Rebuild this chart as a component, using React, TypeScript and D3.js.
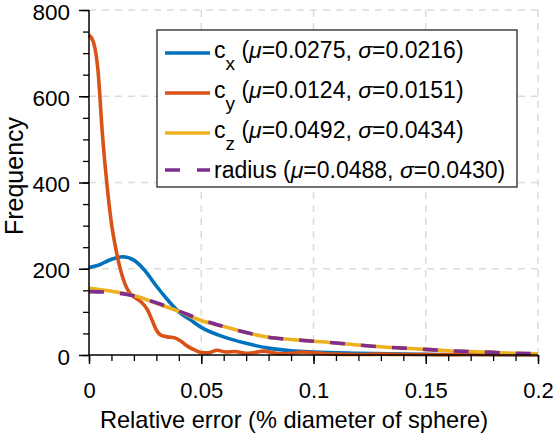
import React, { useEffect, useRef } from 'react';
import * as d3 from 'd3';

const cxX = [0, 0.005, 0.01, 0.015, 0.02, 0.025, 0.03, 0.035, 0.04, 0.045, 0.05, 0.06, 0.07, 0.08, 0.09, 0.1, 0.12, 0.14, 0.16, 0.18, 0.2];
const cxY = [203, 210, 222, 228, 220, 195, 160, 128, 100, 82, 64, 42, 27, 16, 10, 7, 4, 2, 1, 1, 0.5];

const cyX = [0, 0.002, 0.004, 0.006, 0.008, 0.01, 0.012, 0.014, 0.016, 0.018, 0.02, 0.023, 0.026, 0.028, 0.03, 0.032, 0.035, 0.038, 0.041, 0.044, 0.047, 0.05, 0.053, 0.057, 0.061, 0.065, 0.07, 0.074, 0.078, 0.082, 0.086, 0.09, 0.095, 0.1, 0.105, 0.11, 0.12, 0.13, 0.14, 0.15, 0.16, 0.17, 0.18, 0.19, 0.2];
const cyY = [742, 725, 660, 510, 395, 305, 245, 198, 165, 145, 135, 124, 105, 82, 58, 46, 42, 40, 32, 20, 12, 6, 5, 11, 7, 8, 4, 6, 9, 5, 3, 4, 7, 5, 3, 2, 1, 2, 1, 1, 0.5, 1, 0.5, 0.5, 0];

const czX = [0, 0.01, 0.02, 0.03, 0.04, 0.05, 0.06, 0.07, 0.08, 0.09, 0.1, 0.11, 0.12, 0.13, 0.14, 0.15, 0.16, 0.17, 0.18, 0.19, 0.2];
const czY = [155, 148, 138, 120, 101, 80, 66, 52, 41, 36, 32, 28, 23, 19, 16, 13, 10, 8, 6, 4, 3];

const radiusX = [0, 0.01, 0.02, 0.03, 0.04, 0.05, 0.06, 0.07, 0.08, 0.09, 0.1, 0.11, 0.12, 0.13, 0.14, 0.15, 0.16, 0.17, 0.18, 0.19, 0.2];
const radiusY = [147, 145, 137, 121, 102, 82, 66, 52, 41, 36, 32, 28, 23, 19, 16, 13, 10, 8, 6, 4, 3];

const xTicks = [0, 0.05, 0.1, 0.15, 0.2];
const yTicks = [0, 200, 400, 600, 800];

const legendItems = [
  { sub: 'x', mu: '0.0275', sigma: '0.0216', color: '#0072BD', dash: false },
  { sub: 'y', mu: '0.0124', sigma: '0.0151', color: '#D95319', dash: false },
  { sub: 'z', mu: '0.0492', sigma: '0.0434', color: '#EDB120', dash: false },
  { sub: '', mu: '0.0488', sigma: '0.0430', color: '#7E2F8E', dash: true },
];

export default function App() {
  const ref = useRef<SVGSVGElement | null>(null);

  useEffect(() => {
    if (!ref.current) return;
    const svg = d3.select(ref.current);
    svg.selectAll('*').remove();

    const width = 558;
    const height = 440;
    const margin = { top: 10, right: 20, bottom: 85, left: 89 };
    const innerWidth = width - margin.left - margin.right;
    const innerHeight = height - margin.top - margin.bottom;
    const font = 'Liberation Sans, Arial, Helvetica, sans-serif';

    const x = d3.scaleLinear().domain([0, 0.2]).range([0, innerWidth]);
    const y = d3.scaleLinear().domain([0, 800]).range([innerHeight, 0]);

    const g = svg.append('g').attr('transform', `translate(${margin.left},${margin.top})`);

    // grid
    g.selectAll('.vgrid')
      .data(xTicks.filter(d => d > 0))
      .join('line')
      .attr('x1', d => x(d)).attr('x2', d => x(d))
      .attr('y1', 0).attr('y2', innerHeight)
      .attr('stroke', '#dcdcdc').attr('stroke-width', 1.5)
      .attr('stroke-dasharray', '7,6');
    g.selectAll('.hgrid')
      .data(yTicks.filter(d => d > 0))
      .join('line')
      .attr('x1', 0).attr('x2', innerWidth)
      .attr('y1', d => y(d)).attr('y2', d => y(d))
      .attr('stroke', '#dcdcdc').attr('stroke-width', 1.5)
      .attr('stroke-dasharray', '7,6');

    // curves
    const series = [
      { xs: cxX, ys: cxY, color: '#0072BD', dash: '' },
      { xs: cyX, ys: cyY, color: '#D95319', dash: '' },
      { xs: czX, ys: czY, color: '#EDB120', dash: '' },
      { xs: radiusX, ys: radiusY, color: '#7E2F8E', dash: '15,16' },
    ];
    const line = d3.line<[number, number]>()
      .x(d => x(d[0]))
      .y(d => y(d[1]))
      .curve(d3.curveMonotoneX);
    series.forEach(s => {
      const pts = s.xs.map((v, i) => [v, s.ys[i]] as [number, number]);
      g.append('path')
        .attr('d', line(pts)!)
        .attr('fill', 'none')
        .attr('stroke', s.color)
        .attr('stroke-width', 3.6)
        .attr('stroke-dasharray', s.dash || null)
        .attr('stroke-linejoin', 'round');
    });

    // axes
    const xAxis = g.append('g')
      .attr('transform', `translate(0,${innerHeight})`)
      .call(d3.axisBottom(x).tickValues(d3.range(0, 21).map(i => i / 100)).tickFormat(() => '').tickSize(6));
    xAxis.selectAll('.tick line').attr('stroke-width', 1.3);
    xAxis.select('.domain').attr('stroke-width', 1.5).attr('d', `M0,0H${innerWidth}`);
    const xMajor = g.append('g')
      .attr('transform', `translate(0,${innerHeight})`)
      .call(d3.axisBottom(x).tickValues(xTicks).tickFormat(d => `${+d}`).tickSize(9).tickPadding(18));
    xMajor.select('.domain').remove();
    xMajor.selectAll('.tick line').attr('stroke-width', 1.5);
    xMajor.selectAll('text').attr('font-size', 22).attr('font-family', font).attr('fill', '#000');

    const yAxis = g.append('g')
      .call(d3.axisLeft(y).tickValues(d3.range(0, 17).map(i => i * 50)).tickFormat(() => '').tickSize(6));
    yAxis.selectAll('.tick line').attr('stroke-width', 1.3);
    yAxis.select('.domain').attr('stroke-width', 1.5).attr('d', `M0,${innerHeight}V0`);
    const yMajor = g.append('g')
      .call(d3.axisLeft(y).tickValues(yTicks).tickFormat(d => `${d}`).tickSize(10).tickPadding(9));
    yMajor.select('.domain').remove();
    yMajor.selectAll('.tick line').attr('stroke-width', 1.5);
    yMajor.selectAll('text').attr('font-size', 22.5).attr('font-family', font).attr('fill', '#000').attr('dy', '0.4em');

    // axis labels
    svg.append('text')
      .attr('x', 294)
      .attr('y', 428)
      .attr('text-anchor', 'middle')
      .attr('font-size', 23.6)
      .attr('font-family', font)
      .text('Relative error (% diameter of sphere)');
    svg.append('text')
      .attr('transform', `translate(22.5,176) rotate(-90)`)
      .attr('text-anchor', 'middle')
      .attr('font-size', 25)
      .attr('font-family', font)
      .text('Frequency');

    // legend
    const lg = svg.append('g');
    lg.append('rect')
      .attr('x', 157).attr('y', 30).attr('width', 360).attr('height', 157)
      .attr('fill', '#fff').attr('stroke', '#262626').attr('stroke-width', 1.3);
    const rowY = [53, 93, 133, 170];
    legendItems.forEach((it, i) => {
      const cy = rowY[i];
      lg.append('line')
        .attr('x1', 165).attr('x2', 210).attr('y1', cy).attr('y2', cy)
        .attr('stroke', it.color).attr('stroke-width', 3.6)
        .attr('stroke-dasharray', it.dash ? '15,17' : null);
      const t = lg.append('text')
        .attr('x', 214).attr('y', cy + (it.sub ? 5 : 8))
        .attr('font-size', 23).attr('font-family', font).attr('fill', '#000');
      if (it.sub) {
        t.append('tspan').text('c');
        t.append('tspan').attr('dy', 12).attr('font-size', 19).text(it.sub);
        t.append('tspan').attr('dy', -12).text(' (');
      } else {
        t.append('tspan').text('radius (');
      }
      t.append('tspan').attr('font-style', 'italic').text('μ');
      t.append('tspan').text(`=${it.mu}, `);
      t.append('tspan').attr('font-style', 'italic').text('σ');
      t.append('tspan').text(`=${it.sigma})`);
    });
  }, []);

  return (
    <svg ref={ref} width={558} height={440} style={{ position: 'absolute', left: 0, top: 0, background: '#fff' }} />
  );
}
